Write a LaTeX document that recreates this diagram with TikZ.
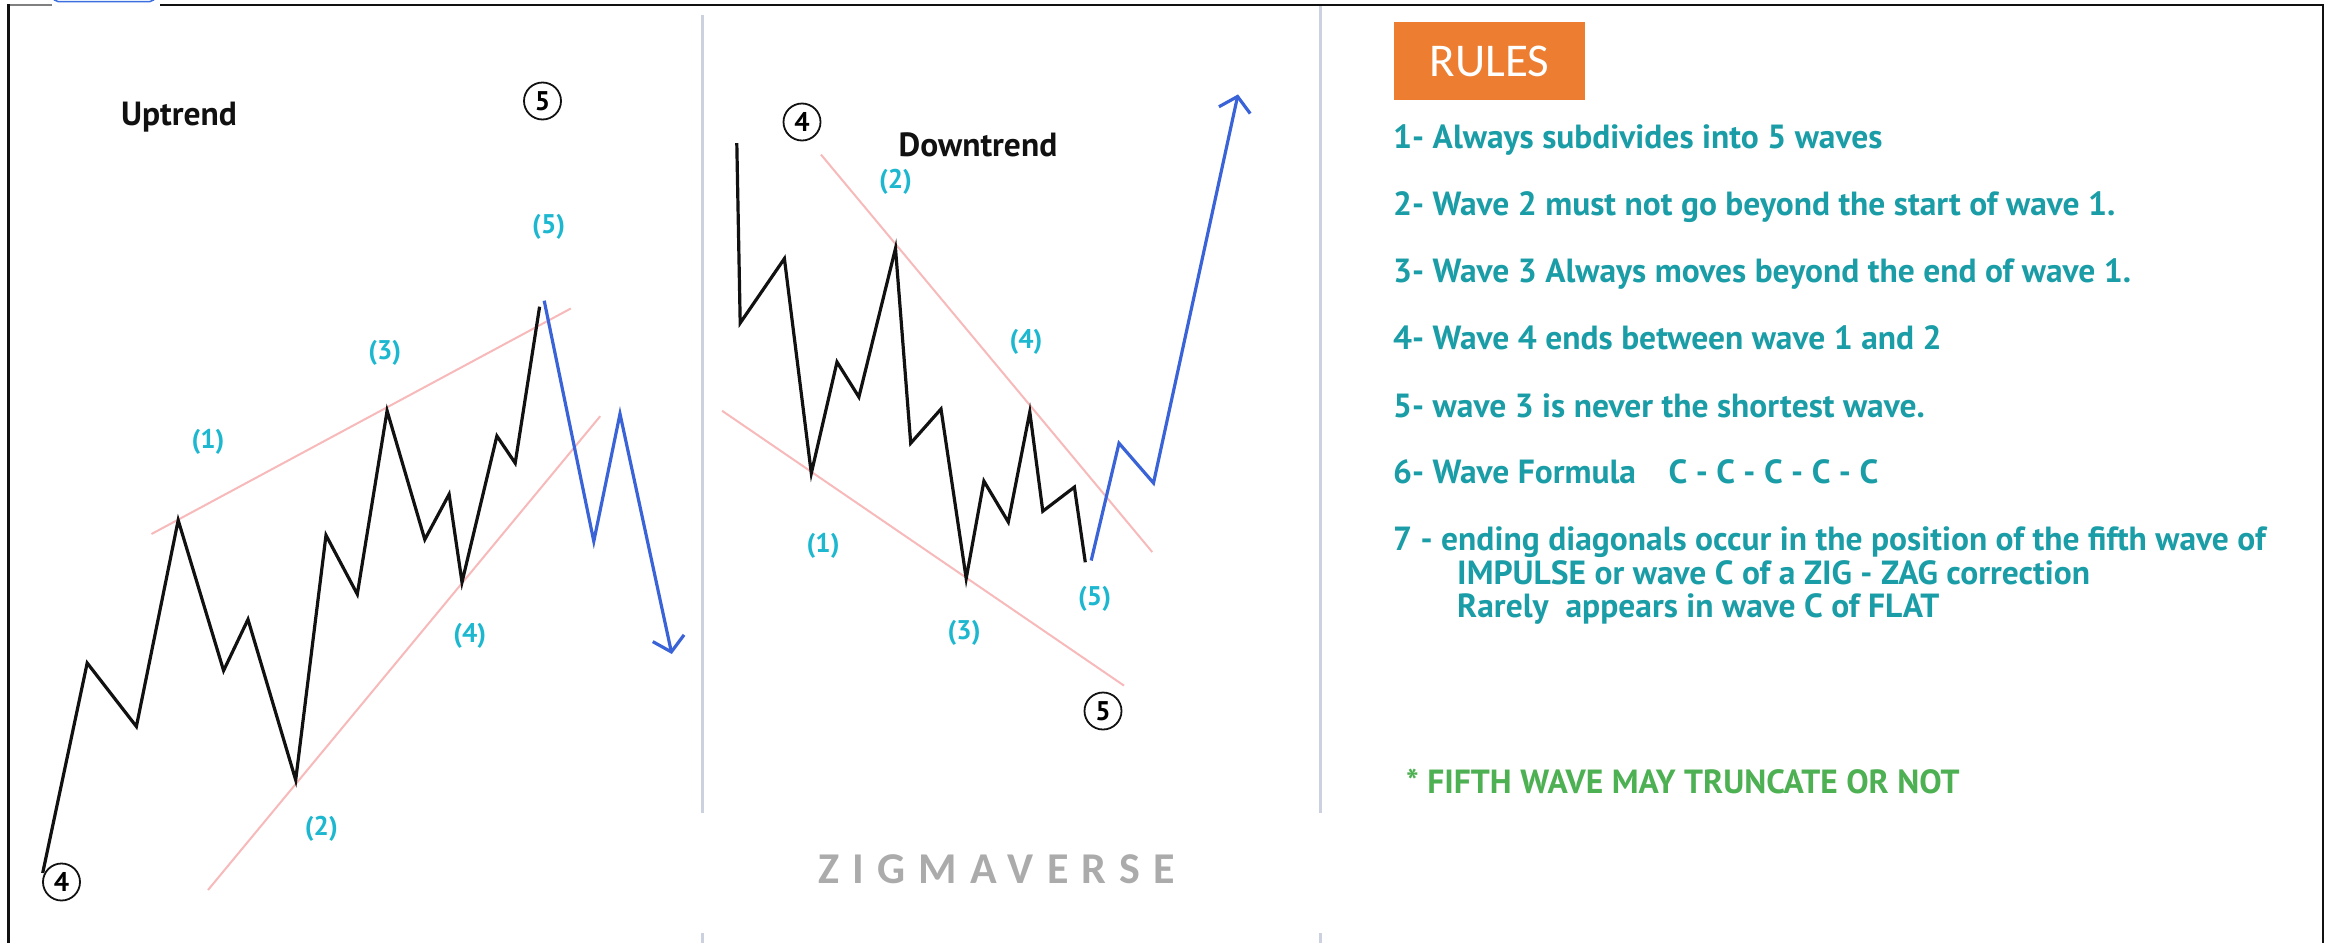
\documentclass[tikz,border=0pt]{standalone}
\usepackage{fontspec}
\setmainfont{PT Sans}
\newfontfamily\calfont{Carlito}
\usetikzlibrary{arrows.meta}
\definecolor{ink}{HTML}{111111}
\definecolor{trendblue}{HTML}{3A63D8}
\definecolor{chan}{HTML}{F7B9B9}
\definecolor{divc}{HTML}{CBD1DF}
\definecolor{wavec}{HTML}{1DB8D0}
\definecolor{rulec}{HTML}{1A9DA6}
\definecolor{notec}{HTML}{4DB052}
\definecolor{boxc}{HTML}{ED7D31}
\definecolor{markc}{HTML}{ABABAB}
\definecolor{tabc}{HTML}{3B6FE0}
\tikzset{
  wave/.style={ink,line width=3.2pt},
  trend/.style={trendblue,line width=3.2pt,-{Straight Barb[length=14pt,width=32pt]}},
  chanl/.style={chan,line width=2pt},
  divl/.style={divc,line width=2.5pt},
  wlbl/.style={wavec,font=\fontsize{27}{27}\selectfont\bfseries},
  cnum/.style={circle,draw=ink,line width=1.8pt,minimum size=37pt,inner sep=0pt,font=\fontsize{27}{27}\selectfont\bfseries},
  ttl/.style={ink,anchor=base,inner sep=0pt,font=\fontsize{33.5}{33.5}\selectfont\bfseries},
  rule/.style={rulec,anchor=base west,inner sep=0pt,font=\fontsize{33.5}{33.5}\selectfont\bfseries},
}
\begin{document}
\begin{tikzpicture}[x=1pt,y=-1pt]
  \useasboundingbox (0,0) rectangle (2335,943);
  % ---------- frame ----------
  \draw[gray,line width=2pt] (8,5) -- (52,5);
  \draw[tabc,line width=1.5pt,rounded corners=5pt] (53,-12) rectangle (155,1.5);
  \draw[ink,line width=2.5pt] (160,5) -- (2323,5) -- (2323,943);
  \draw[ink,line width=3pt] (8,4) -- (8,943);
  \draw[divl] (702.6,15) -- (702.6,813);
  \draw[divl] (702.6,933) -- (702.6,943);
  \draw[divl] (1320.5,6) -- (1320.5,813);
  \draw[divl] (1320.5,933) -- (1320.5,943);
  % ---------- uptrend ----------
  \draw[chanl] (151.5,534) -- (570.8,308.5);
  \draw[chanl] (208,890) -- (600.2,416.2);
  \draw[wave] (42.7,873) -- (87.2,663) -- (136.4,726.5) -- (178.2,520.2) -- (223.6,670.6)
    -- (248,619.4) -- (295.7,780) -- (326,535.2) -- (357.3,594.2) -- (387.1,410.8)
    -- (424.8,539.5) -- (449.1,494.3) -- (462,582.2) -- (496.9,436) -- (515.2,463.1)
    -- (539.6,306.7);
  \draw[trend] (544.2,300.7) -- (593.8,541.3) -- (620,413.8) -- (671.8,654);
  \node[ttl] (uptitle) at (179,125) {Uptrend};
  \node[wlbl] (u1) at (208,442) {(1)};
  \node[wlbl] (u2) at (321.4,828.7) {(2)};
  \node[wlbl] (u3) at (384.8,353) {(3)};
  \node[wlbl] (u4) at (469.8,635.7) {(4)};
  \node[wlbl] (u5) at (548.7,227.3) {(5)};
  \node[cnum] (uc5) at (542.5,101) {5};
  \node[cnum] (uc4) at (61.5,882) {4};
  % ---------- downtrend ----------
  \draw[chanl] (821,154.6) -- (1152.3,552.1);
  \draw[chanl] (722.1,410.8) -- (1124,685.6);
  \draw[wave] (736.8,143.1) -- (740.2,323) -- (784.4,258.6) -- (811.3,473.3) -- (837,362)
    -- (858.9,397) -- (895.5,248.4) -- (910.7,443.2) -- (941,409) -- (966.2,578.5)
    -- (983.9,481.1) -- (1008.3,522) -- (1029.8,412) -- (1042.8,511.2) -- (1074.4,487.1)
    -- (1085.3,562.3);
  \draw[trend] (1091.2,560.5) -- (1119,443.2) -- (1153.5,483) -- (1238,94.4);
  \node[ttl] (downtitle) at (978,156) {Downtrend};
  \node[wlbl] (d1) at (823.1,546) {(1)};
  \node[wlbl] (d2) at (895.5,182.2) {(2)};
  \node[wlbl] (d3) at (964.1,632.7) {(3)};
  \node[wlbl] (d4) at (1026,341.6) {(4)};
  \node[wlbl] (d5) at (1094.6,598.4) {(5)};
  \node[cnum] (dc4) at (802,122) {4};
  \node[cnum] (dc5) at (1103,711) {5};
  \node[markc,anchor=base west,inner sep=0pt,font=\calfont\fontsize{44}{44}\selectfont\bfseries\addfontfeature{LetterSpace=30}] (brand) at (818,883) {ZIGMAVERSE};
  % ---------- rules ----------
  \node[fill=boxc,minimum width=191pt,minimum height=78pt,inner sep=0pt,anchor=north west] (rulesbox) at (1394,22) {};
  \node[white,font=\calfont\fontsize{47}{47}\selectfont] at (rulesbox.center) {RULES};
  \node[rule] (r1) at (1393,148) {1- Always subdivides into 5 waves};
  \node[rule] (r2) at (1393,215) {2- Wave 2 must not go beyond the start of wave 1.};
  \node[rule] (r3) at (1393,282) {3- Wave 3 Always moves beyond the end of wave 1.};
  \node[rule] (r4) at (1393,349) {4- Wave 4 ends between wave 1 and 2};
  \node[rule] (r5) at (1393,417) {5- wave 3 is never the shortest wave.};
  \node[rule] (r6) at (1393,483) {6- Wave Formula\hspace{24pt} C - C - C - C - C};
  \node[rule] (r7) at (1393,550) {7 - ending diagonals occur in the position of the fifth wave of};
  \node[rule] (r7b) at (1457,584) {IMPULSE or wave C of a ZIG - ZAG correction};
  \node[rule] (r7c) at (1457,617) {Rarely\ \ appears in wave C of FLAT};
  \node[rule,notec] (note) at (1406,793) {* FIFTH WAVE MAY TRUNCATE OR NOT};
\end{tikzpicture}
\end{document}
